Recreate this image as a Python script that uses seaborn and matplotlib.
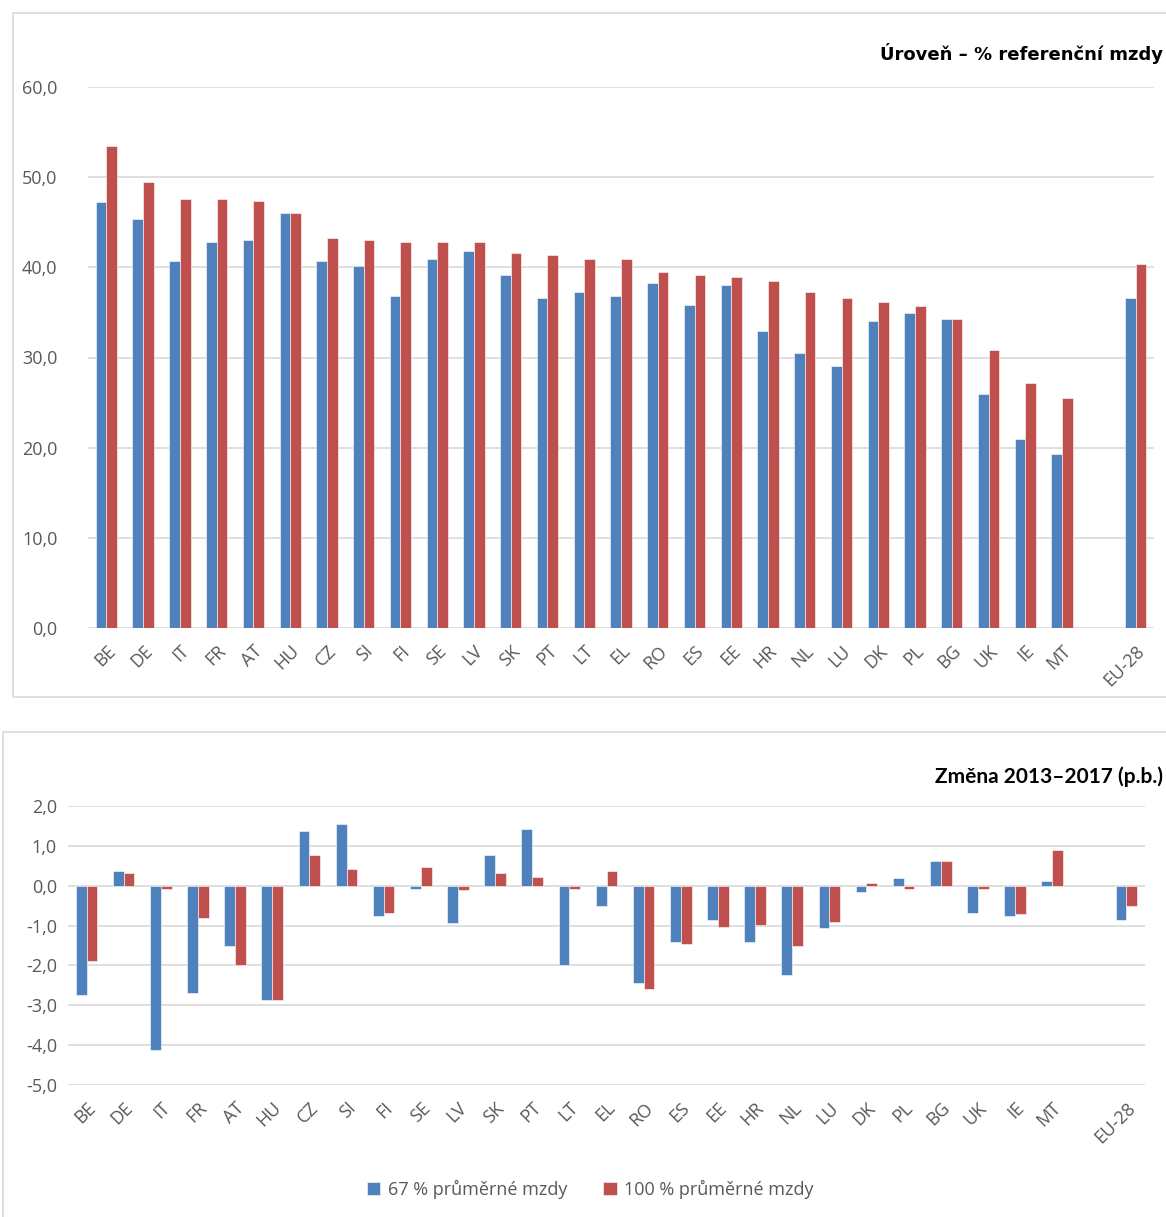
import matplotlib.pyplot as plt
import seaborn as sns
import numpy as np
import pandas as pd
from matplotlib.patches import Rectangle
from matplotlib.ticker import FuncFormatter

sns.set_theme(style='white')
plt.rcParams['font.family'] = ['Open Sans', 'DejaVu Sans']

# Pořadí zemí (mezera = prázdné místo před EU-28)
zeme = ['BE', 'DE', 'IT', 'FR', 'AT', 'HU', 'CZ', 'SI', 'FI', 'SE', 'LV', 'SK', 'PT', 'LT',
        'EL', 'RO', 'ES', 'EE', 'HR', 'NL', 'LU', 'DK', 'PL', 'BG', 'UK', 'IE', 'MT', 'EU-28']
poradi = zeme[:-1] + [' '] + ['EU-28']

# Úroveň – % referenční mzdy
uroven_67 = [47.2, 45.4, 40.7, 42.8, 43.0, 46.0, 40.7, 40.1, 36.8, 40.9, 41.8, 39.1, 36.6, 37.3,
             36.8, 38.3, 35.8, 38.0, 32.9, 30.5, 29.1, 34.1, 34.9, 34.3, 26.0, 21.0, 19.3, 36.6]
uroven_100 = [53.5, 49.5, 47.6, 47.6, 47.4, 46.0, 43.3, 43.0, 42.8, 42.8, 42.8, 41.6, 41.4, 40.9,
              40.9, 39.5, 39.1, 38.9, 38.5, 37.3, 36.6, 36.2, 35.7, 34.3, 30.8, 27.2, 25.5, 40.4]

# Změna 2013–2017 (p.b.)
zmena_67 = [-2.73, 0.36, -4.13, -2.69, -1.52, -2.87, 1.37, 1.54, -0.77, -0.07, -0.94, 0.76, 1.42, -1.99,
            -0.50, -2.43, -1.42, -0.85, -1.42, -2.25, -1.07, -0.15, 0.19, 0.62, -0.68, -0.77, 0.11, -0.85]
zmena_100 = [-1.90, 0.32, -0.07, -0.82, -1.99, -2.87, 0.76, 0.41, -0.68, 0.46, -0.12, 0.32, 0.23, -0.07,
             0.36, -2.60, -1.47, -1.03, -0.98, -1.52, -0.90, 0.06, -0.07, 0.62, -0.07, -0.72, 0.89, -0.50]

s67 = '67 % průměrné mzdy'
s100 = '100 % průměrné mzdy'

def dlouhy(a, b):
    return pd.DataFrame({
        'zeme': zeme * 2,
        'hodnota': a + b,
        'serie': [s67] * len(zeme) + [s100] * len(zeme),
    })

df_top = dlouhy(uroven_67, uroven_100)
df_bot = dlouhy(zmena_67, zmena_100)

barvy = {s67: '#4F81BD', s100: '#C0504D'}
seda = '#595959'
mrizka = '#D9D9D9'
carka = FuncFormatter(lambda v, p: f'{v:.1f}'.replace('.', ','))

fig = plt.figure(figsize=(11.66, 12.17), dpi=100)

# rámečky obou grafů
fig.patches.append(Rectangle((13 / 1166, 1 - 697 / 1217), 1.2, (697 - 13) / 1217,
                             transform=fig.transFigure, fill=False, edgecolor=mrizka, lw=1.2))
fig.patches.append(Rectangle((3 / 1166, -0.1), 1.2, 0.1 + (1217 - 732) / 1217,
                             transform=fig.transFigure, fill=False, edgecolor=mrizka, lw=1.2))

ax1 = fig.add_axes([88 / 1166, 1 - 628 / 1217, (1154 - 88) / 1166, (628 - 87) / 1217])
ax2 = fig.add_axes([68 / 1166, 1 - 1085 / 1217, (1145 - 68) / 1166, (1085 - 806) / 1217])

for ax, df, lim, step in [(ax1, df_top, (0, 60), 10), (ax2, df_bot, (-5, 2), 1)]:
    sns.barplot(data=df, x='zeme', y='hodnota', hue='serie', order=poradi, palette=barvy,
                width=0.58, gap=0, saturation=1, edgecolor='white', linewidth=0.4,
                ax=ax, legend=(ax is ax2))
    ax.set_ylim(*lim)
    ax.set_yticks(np.arange(lim[0], lim[1] + 0.01, step))
    ax.yaxis.set_major_formatter(carka)
    ax.set_xlim(-0.5, len(poradi) - 0.5)
    ax.grid(axis='y', color=mrizka, lw=1.2)
    ax.set_axisbelow(True)
    for s in ax.spines.values():
        s.set_visible(False)
    ax.set_xlabel('')
    ax.set_ylabel('')
    ax.tick_params(axis='both', length=0, colors=seda, labelsize=13)
    ax.tick_params(axis='y', pad=22 if ax is ax1 else 8)
    ax.tick_params(axis='x', pad=10)
    plt.setp(ax.get_xticklabels(), rotation=45, ha='right', rotation_mode='anchor')

h, l = ax2.get_legend_handles_labels()
ax2.get_legend().remove()
fig.legend(h, l, loc='center', bbox_to_anchor=(0.506, 1 - 1189 / 1217), ncol=2, frameon=False,
           handlelength=0.75, handleheight=0.75, handletextpad=0.4, columnspacing=2.0,
           fontsize=13, labelcolor=seda)

fig.text(1163 / 1166, 1 - 53 / 1217, 'Úroveň – % referenční mzdy', fontsize=13,
         fontweight='bold', family=['DejaVu Sans'], ha='right', va='center', color='black')
fig.text(1163 / 1166, 1 - 777 / 1217, 'Změna 2013–2017 (p.b.)', fontsize=15,
         fontweight='bold', family=['Lato', 'DejaVu Sans'], ha='right', va='center', color='black')

fig.savefig('out.png', dpi=100)
